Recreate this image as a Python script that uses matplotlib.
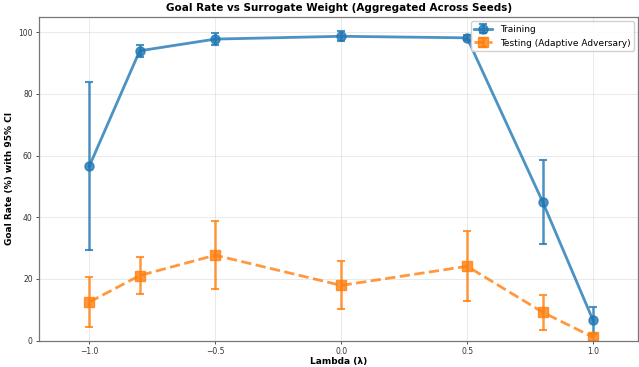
import numpy as np
import matplotlib.pyplot as plt

# data
lambdas = [-1.0, -0.8, -0.5, 0.0, 0.5, 0.8, 1.0]

train_mean = [56.6, 94.0, 97.8, 98.7, 98.2, 45.0, 6.6]
train_lo   = [29.4, 92.0, 95.8, 97.1, 97.4, 31.3, 2.2]
train_hi   = [83.9, 96.0, 99.8, 100.4, 99.0, 58.6, 11.0]

test_mean = [12.5, 21.1, 27.7, 17.9, 24.1, 9.2, 1.1]
test_lo   = [4.4, 15.0, 16.7, 10.3, 12.9, 3.4, 0.0]
test_hi   = [20.6, 27.2, 38.7, 25.7, 35.5, 14.9, 2.2]

xticks = [-1.0, -0.5, 0.0, 0.5, 1.0]
yticks = [0, 20, 40, 60, 80, 100]

train_err = [np.subtract(train_mean, train_lo), np.subtract(train_hi, train_mean)]
test_err = [np.subtract(test_mean, test_lo), np.subtract(test_hi, test_mean)]

fig = plt.figure(figsize=(6.39, 3.67), dpi=100)
ax = fig.add_axes([0.061, 0.072, 0.938, 0.882])

ax.errorbar(lambdas, train_mean, yerr=train_err, fmt="-o", color="#1f77b4",
            alpha=0.8, lw=2, ms=6.5, capsize=3, elinewidth=1.8, capthick=1.5,
            label="Training")
ax.errorbar(lambdas, test_mean, yerr=test_err, fmt="--s", color="#ff7f0e",
            alpha=0.8, lw=2, ms=6.5, capsize=3, elinewidth=1.8, capthick=1.5,
            label="Testing (Adaptive Adversary)")

ax.set_xlim(-1.2, 1.18)
ax.set_ylim(0, 105)
ax.set_xticks(xticks)
ax.set_yticks(yticks)
ax.tick_params(labelsize=5.5, colors="#333333", length=2.5, width=0.6, pad=2)
ax.grid(True, alpha=0.3, lw=0.6)
for s in ax.spines.values():
    s.set_color("#777777")
    s.set_linewidth(0.9)

ax.set_xlabel("Lambda (λ)", fontsize=6.5, fontweight="bold", labelpad=1)
ax.set_ylabel("Goal Rate (%) with 95% CI", fontsize=6.5, fontweight="bold", labelpad=3)
ax.set_title("Goal Rate vs Surrogate Weight (Aggregated Across Seeds)",
             fontsize=7.5, fontweight="bold", pad=4)
ax.legend(loc="upper right", fontsize=6.5, framealpha=0.9, borderpad=0.4,
          handlelength=2)

fig.savefig("out.png", dpi=100)
